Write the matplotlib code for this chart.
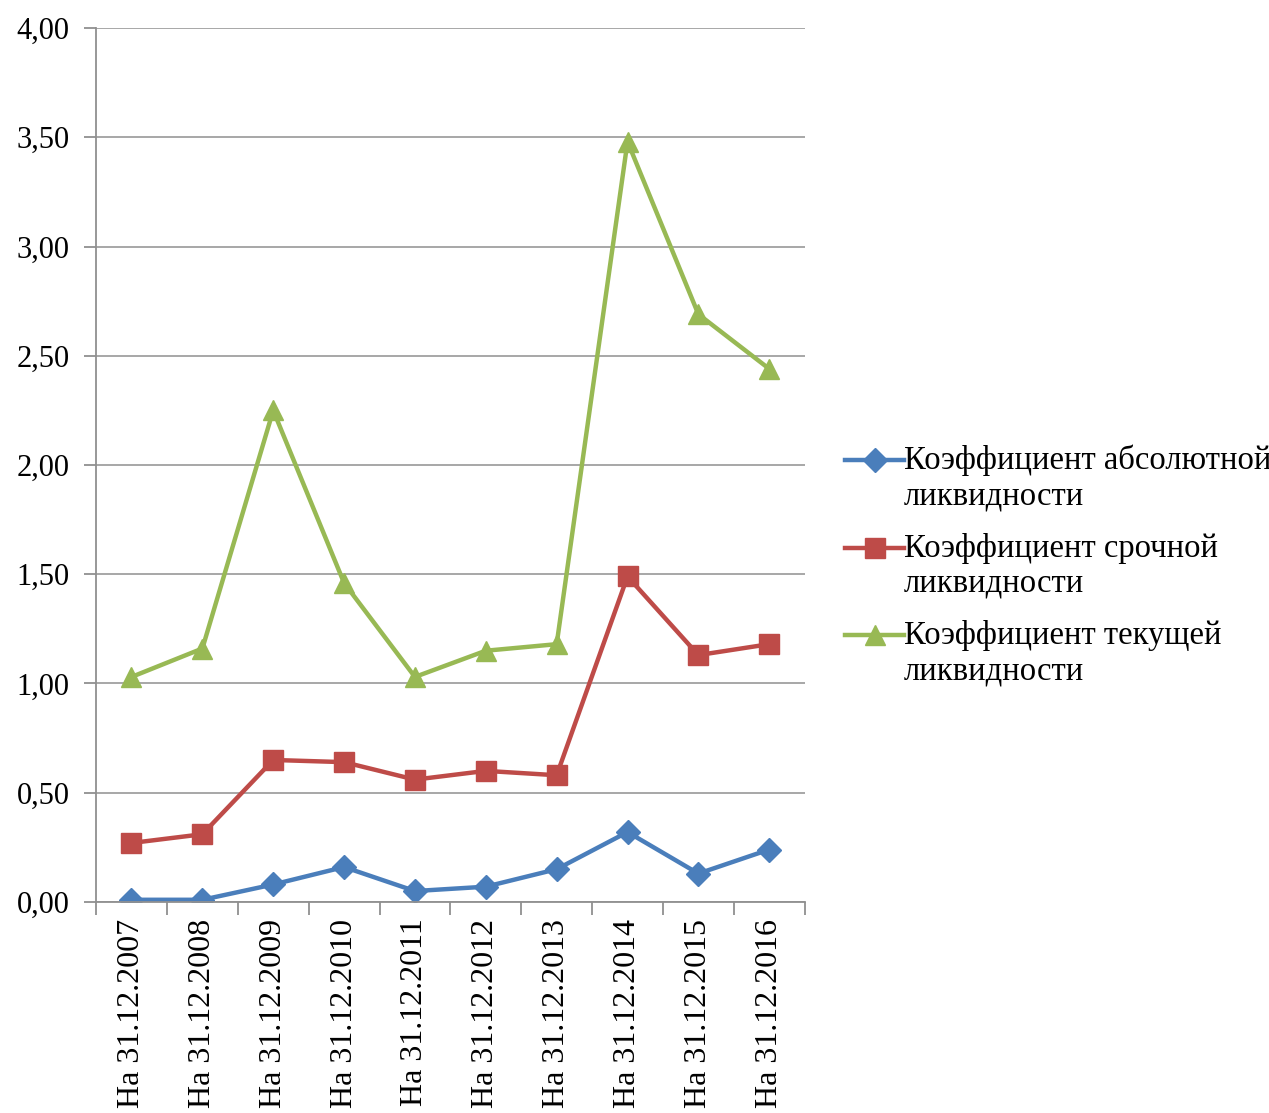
import numpy as np
import matplotlib.pyplot as plt
from matplotlib.legend_handler import HandlerLine2D

plt.rcParams['font.family'] = ['Liberation Serif', 'DejaVu Serif']

dates = ["На 31.12.2007", "На 31.12.2008", "На 31.12.2009", "На 31.12.2010",
         "На 31.12.2011", "На 31.12.2012", "На 31.12.2013", "На 31.12.2014",
         "На 31.12.2015", "На 31.12.2016"]

absolute = [0.01, 0.01, 0.08, 0.16, 0.05, 0.07, 0.15, 0.32, 0.13, 0.24]
quick = [0.27, 0.31, 0.65, 0.64, 0.56, 0.60, 0.58, 1.49, 1.13, 1.18]
current = [1.03, 1.16, 2.25, 1.46, 1.03, 1.15, 1.18, 3.48, 2.69, 2.44]

names = ["Коэффициент абсолютной\nликвидности",
         "Коэффициент срочной\nликвидности",
         "Коэффициент текущей\nликвидности"]


# legend marker sits on the first line of a two-line label
class FirstLineHandler(HandlerLine2D):
    def create_artists(self, legend, orig_handle, xdescent, ydescent,
                       width, height, fontsize, trans):
        arts = super().create_artists(legend, orig_handle, xdescent, ydescent,
                                      width, height, fontsize, trans)
        for a in arts:
            a.set_ydata(np.asarray(a.get_ydata()) + 0.55 * fontsize)
        return arts


fig = plt.figure(figsize=(12.69, 11.13), dpi=100)
ax = fig.add_axes([0.0757, 0.1896, 0.5584, 0.7852])

x = np.arange(len(dates))
ax.plot(x, absolute, color='#4A7EBB', lw=3.2, marker='D', ms=12, label=names[0])
ax.plot(x, quick, color='#BE4B48', lw=3.2, marker='s', ms=15, label=names[1])
ax.plot(x, current, color='#98B954', lw=3.2, marker='^', ms=15, label=names[2])

ax.set_xlim(-0.5, len(dates) - 0.5)
ax.set_ylim(0, 4)
ax.set_yticks(np.arange(0, 4.01, 0.5))
ax.set_yticklabels([f"{v:.2f}".replace('.', ',') for v in np.arange(0, 4.01, 0.5)])
ax.yaxis.grid(True, color='#A0A0A0', lw=1.3)
ax.set_axisbelow(True)

ax.set_xticks(x)
ax.set_xticklabels(dates, rotation=90, fontsize=23)
ax.set_xticks(np.arange(-0.5, len(dates)), minor=True)
ax.tick_params(axis='x', which='major', length=0, pad=12)
ax.tick_params(axis='x', which='minor', length=9, color='#909090', width=1.3)
ax.tick_params(axis='y', labelsize=22, length=9, color='#909090', width=1.3, pad=10)

for side in ['top', 'right']:
    ax.spines[side].set_visible(False)
for side in ['left', 'bottom']:
    ax.spines[side].set_color('#909090')
    ax.spines[side].set_linewidth(1.3)

fig.legend(loc='center left', bbox_to_anchor=(0.666, 0.492), frameon=False,
           fontsize=23.5, handlelength=1.8, handletextpad=0.0,
           labelspacing=0.65, borderpad=0, borderaxespad=0,
           handler_map={l: FirstLineHandler() for l in ax.get_lines()})

fig.savefig('out.png', dpi=100)
